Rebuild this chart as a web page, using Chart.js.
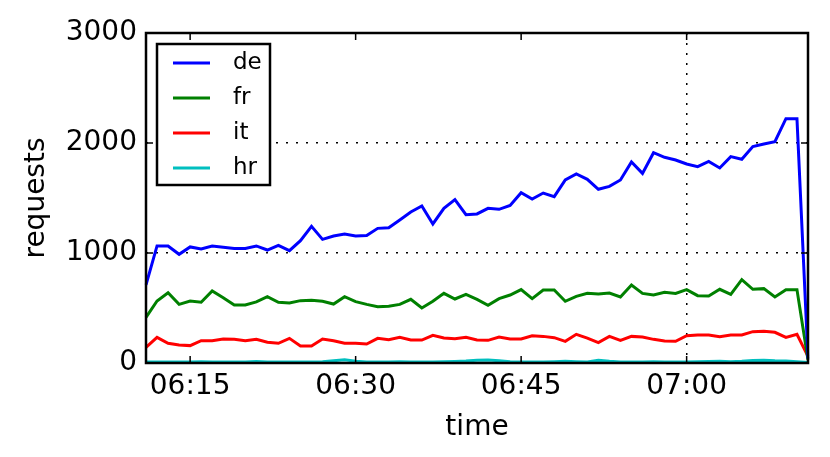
<!DOCTYPE html>
<html>
<head>
<meta charset="utf-8">
<script src="https://cdn.jsdelivr.net/npm/chart.js@4.4.1/dist/chart.umd.min.js"></script>
<style>
html,body{margin:0;padding:0;background:#fff;}
#wrap{width:830px;height:457px;position:relative;}
</style>
</head>
<body>
<div id="wrap"><canvas id="c"></canvas></div>
<script>
const times = ['06:11','06:12','06:13','06:14','06:15','06:16','06:17','06:18','06:19','06:20',
  '06:21','06:22','06:23','06:24','06:25','06:26','06:27','06:28','06:29','06:30',
  '06:31','06:32','06:33','06:34','06:35','06:36','06:37','06:38','06:39','06:40',
  '06:41','06:42','06:43','06:44','06:45','06:46','06:47','06:48','06:49','06:50',
  '06:51','06:52','06:53','06:54','06:55','06:56','06:57','06:58','06:59','07:00',
  '07:01','07:02','07:03','07:04','07:05','07:06','07:07','07:08','07:09','07:10','07:11'];

const xTickLabels = ['06:15','06:30','06:45','07:00'];
const xGridLabels = ['07:00'];
const yTicks = [0, 1000, 2000, 3000];
const yGridValues = [1000, 2000];

const de = [710,1064,1064,988,1055,1036,1064,1052,1042,1042,
  1064,1027,1070,1021,1112,1242,1124,1155,1173,1155,
  1158,1224,1230,1300,1373,1427,1264,1406,1485,1348,
  1355,1406,1397,1433,1548,1491,1545,1512,1664,1718,
  1670,1579,1606,1664,1827,1724,1912,1870,1845,1809,
  1785,1833,1773,1876,1852,1967,1991,2012,2221,2221,40];

const fr = [415,564,639,533,564,552,655,594,527,527,
  555,603,552,545,567,570,561,536,603,558,
  533,512,515,533,579,500,561,633,582,624,
  579,524,585,618,667,585,664,664,561,606,
  633,627,636,600,709,633,618,642,633,667,
  612,609,670,624,758,670,676,600,667,667,27];

const it = [142,233,179,164,158,203,203,218,215,203,
  215,188,179,224,155,155,218,203,179,179,
  173,224,212,233,209,209,252,227,221,233,
  210,206,236,218,218,248,242,230,197,261,
  227,185,242,206,242,237,215,200,197,248,
  255,255,239,255,255,285,288,279,233,261,60];

const hr = [10,10,8,8,10,12,10,8,8,10,
  14,10,8,8,10,10,12,20,30,15,
  10,8,10,12,10,8,10,12,14,18,
  25,28,20,12,10,8,10,12,15,12,
  10,25,15,10,8,10,12,10,8,10,
  12,14,15,12,15,22,25,20,18,12,5];

const seriesNames = ['de','fr','it','hr'];
const seriesColors = ['#0000ff','#008000','#ff0000','#00bfbf'];
const seriesData = [de, fr, it, hr];

const FONT = "'DejaVu Sans', sans-serif";

const framePlugin = {
  id: 'frame',
  afterDatasetsDraw(chart) {
    const ctx = chart.ctx;
    const a = chart.chartArea;
    const xs = chart.scales.x, ys = chart.scales.y;
    ctx.save();
    ctx.strokeStyle = '#000';
    ctx.lineWidth = 1.5;
    const tl = 7;
    xs.ticks.forEach(t => {
      const px = xs.getPixelForValue(t.value);
      ctx.beginPath();
      ctx.moveTo(px, a.bottom); ctx.lineTo(px, a.bottom - tl);
      ctx.moveTo(px, a.top); ctx.lineTo(px, a.top + tl);
      ctx.stroke();
    });
    ys.ticks.forEach(t => {
      const py = ys.getPixelForValue(t.value);
      ctx.beginPath();
      ctx.moveTo(a.left, py); ctx.lineTo(a.left + tl, py);
      ctx.moveTo(a.right, py); ctx.lineTo(a.right - tl, py);
      ctx.stroke();
    });
    ctx.lineWidth = 2.5;
    ctx.strokeRect(a.left, a.top, a.right - a.left, a.bottom - a.top);

    // legend box
    const lx = a.left + 11, ly = a.top + 11, lw = 113, lh = 141;
    ctx.fillStyle = '#fff';
    ctx.fillRect(lx, ly, lw, lh);
    ctx.lineWidth = 2.5;
    ctx.strokeRect(lx, ly, lw, lh);
    ctx.font = '23px ' + FONT;
    ctx.textBaseline = 'middle';
    ctx.textAlign = 'left';
    chart.data.datasets.forEach((ds, i) => {
      const ry = ly + 19 + i * 35;
      ctx.strokeStyle = ds.borderColor;
      ctx.lineWidth = 3;
      ctx.beginPath();
      ctx.moveTo(lx + 16, ry); ctx.lineTo(lx + 53, ry);
      ctx.stroke();
      ctx.fillStyle = '#000';
      ctx.fillText(ds.label, lx + 76, ry);
    });
    ctx.restore();
  }
};

new Chart(document.getElementById('c'), {
  type: 'line',
  data: {
    labels: times,
    datasets: seriesNames.map((n, i) => ({
      label: n,
      data: seriesData[i],
      borderColor: seriesColors[i],
      backgroundColor: seriesColors[i],
      borderWidth: 3,
      pointRadius: 0,
      tension: 0,
      fill: false
    }))
  },
  options: {
    responsive: true,
    maintainAspectRatio: false,
    animation: false,
    devicePixelRatio: 1,
    layout: { padding: { top: 33, right: 22, left: 0, bottom: 0 } },
    plugins: { legend: { display: false }, tooltip: { enabled: false } },
    scales: {
      x: {
        type: 'category',
        offset: false,
        afterBuildTicks: (s) => { s.ticks = xTickLabels.map(l => ({ value: times.indexOf(l) })); },
        afterFit: (s) => { s.height = 94; },
        ticks: {
          autoSkip: false, maxRotation: 0, minRotation: 0,
          color: '#000', padding: 7,
          font: { family: FONT, size: 28 },
          callback: function(v) { return times[v]; }
        },
        grid: {
          drawTicks: false,
          lineWidth: 1.5,
          color: (c) => (c.tick && xGridLabels.includes(times[c.tick.value])) ? '#000' : 'rgba(0,0,0,0)'
        },
        border: { display: false, dash: [2, 8] },
        title: { display: true, text: 'time', color: '#000', font: { family: FONT, size: 28 }, padding: { top: 0, bottom: 12 } }
      },
      y: {
        type: 'linear',
        min: 0, max: 3000,
        afterBuildTicks: (s) => { s.ticks = yTicks.map(v => ({ value: v })); },
        afterFit: (s) => { s.width = 146; },
        ticks: {
          color: '#000', padding: 9,
          font: { family: FONT, size: 28 },
          callback: (v) => String(v)
        },
        grid: {
          drawTicks: false,
          lineWidth: 1.5,
          color: (c) => (c.tick && yGridValues.includes(c.tick.value)) ? '#000' : 'rgba(0,0,0,0)'
        },
        border: { display: false, dash: [2, 8] },
        title: { display: true, text: 'requests', color: '#000', font: { family: FONT, size: 28 }, padding: { top: 20, bottom: 0 } }
      }
    }
  },
  plugins: [framePlugin]
});
</script>
</body>
</html>
